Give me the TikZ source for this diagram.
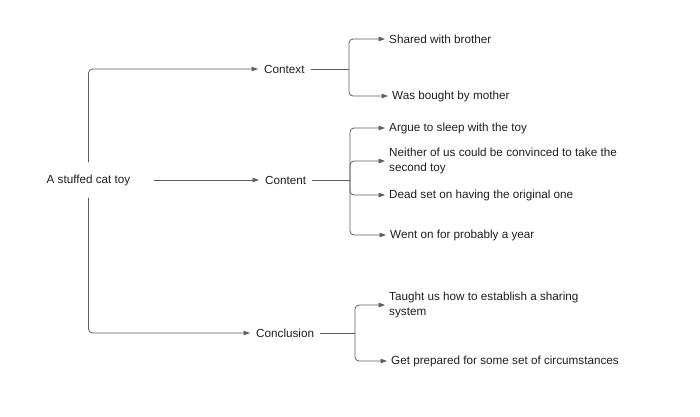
\documentclass[tikz,border=0pt]{standalone}
\usepackage{fontspec}
\setmainfont{Liberation Sans}
\usetikzlibrary{arrows.meta}
\definecolor{linec}{HTML}{5E5E5E}
\definecolor{txtc}{HTML}{1E1E1E}
\tikzset{
  txt/.style={font=\fontsize{11.7}{14.5}\selectfont, text=txtc, inner ysep=0pt, align=left},
  lvlone/.style={txt, inner xsep=6pt},
  lvltwo/.style={txt, inner xsep=4pt, anchor=west},
  conn/.style={draw=linec, line width=0.8pt, rounded corners=4pt},
  arr/.style={conn, -{Triangle[length=6.5pt,width=4.5pt]}, shorten >=0pt}
}
\begin{document}
\begin{tikzpicture}[x=1pt,y=-1pt]
\useasboundingbox (0,0) rectangle (700,416);
% root
\node[txt, minimum height=35pt, inner xsep=23pt] (root) at (88.5,180) {A stuffed cat toy};
% level one
\node[lvlone, anchor=west] (context) at (258,69) {Context};
\node[lvlone, anchor=west] (content) at (259,180) {Content};
\node[lvlone, anchor=west] (conclusion) at (250,333) {Conclusion};
% level two
\node[lvltwo] (shared) at (385,39) {Shared with brother};
\node[lvltwo] (bought) at (388,96) {Was bought by mother};
\node[lvltwo] (argue) at (385,128) {Argue to sleep with the toy};
\node[lvltwo] (neither) at (385,161) {Neither of us could be convinced to take the\\second toy};
\node[lvltwo] (dead) at (385,195) {Dead set on having the original one};
\node[lvltwo] (went) at (386,235) {Went on for probably a year};
\node[lvltwo] (taught) at (385,305) {Taught us how to establish a sharing\\system};
\node[lvltwo] (prepared) at (387,361) {Get prepared for some set of circumstances};
% branch points
\coordinate (bctx) at (349,69);
\coordinate (bcnt) at (350,180);
\coordinate (bcon) at (355,333);
% root connectors
\draw[arr] (root.north) |- (context.west);
\draw[arr] (root.east) -- (content.west |- root.east);
\draw[arr] (root.south) |- (conclusion.west);
% context
\draw[conn] (context.east) -- (bctx);
\draw[arr] (bctx) |- (shared.west);
\draw[arr] (bctx) |- (bought.west);
% content
\draw[conn] (content.east) -- (bcnt);
\draw[arr] (bcnt) |- (argue.west);
\draw[arr] (bcnt) |- (neither.west);
\draw[arr] (bcnt) |- (dead.west);
\draw[arr] (bcnt) |- (went.west);
% conclusion
\draw[conn] (conclusion.east) -- (bcon);
\draw[arr] (bcon) |- (taught.west);
\draw[arr] (bcon) |- (prepared.west);
\end{tikzpicture}
\end{document}
